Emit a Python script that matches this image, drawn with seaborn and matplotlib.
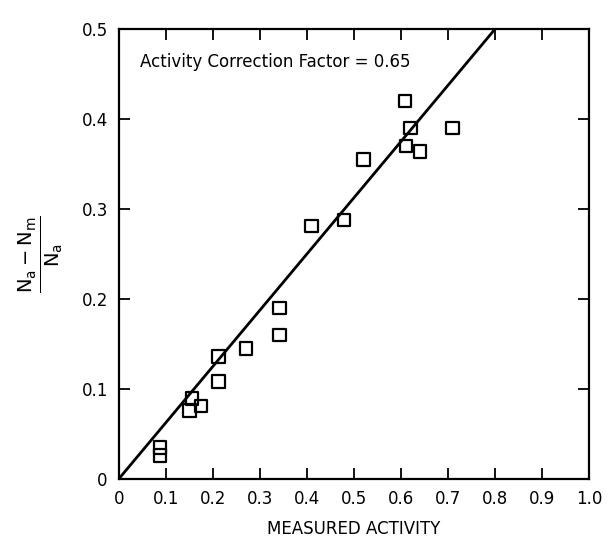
import matplotlib
matplotlib.use("Agg")
import matplotlib.pyplot as plt
import seaborn as sns
import pandas as pd

# Data
measured_activity = [0.088, 0.088, 0.150, 0.156, 0.175, 0.212, 0.212, 0.271, 0.342, 0.342,
                     0.410, 0.479, 0.520, 0.609, 0.620, 0.611, 0.641, 0.710]
ratio = [0.035, 0.026, 0.076, 0.0895, 0.081, 0.136, 0.108, 0.145, 0.190, 0.160,
         0.281, 0.288, 0.355, 0.420, 0.390, 0.370, 0.364, 0.390]

fit_x = [0.0, 0.8]
fit_y = [0.0, 0.5]

x_ticks = [0, 0.1, 0.2, 0.3, 0.4, 0.5, 0.6, 0.7, 0.8, 0.9, 1.0]
x_tick_labels = ['0', '0.1', '0.2', '0.3', '0.4', '0.5', '0.6', '0.7', '0.8', '0.9', '1.0']
y_ticks = [0, 0.1, 0.2, 0.3, 0.4, 0.5]
y_tick_labels = ['0', '0.1', '0.2', '0.3', '0.4', '0.5']

df = pd.DataFrame({'activity': measured_activity, 'ratio': ratio})
fit = pd.DataFrame({'x': fit_x, 'y': fit_y})

sns.set_style('ticks')
plt.rcParams['font.family'] = ['DejaVu Sans']
plt.rcParams['text.color'] = 'black'
plt.rcParams['axes.labelcolor'] = 'black'
plt.rcParams['xtick.color'] = 'black'
plt.rcParams['ytick.color'] = 'black'
plt.rcParams['mathtext.default'] = 'regular'

fig = plt.figure(figsize=(6.16, 5.41), dpi=100)
ax = fig.add_axes([0.193, 0.115, 0.763, 0.831])

sns.lineplot(data=fit, x='x', y='y', color='black', linewidth=2, ax=ax)
sns.scatterplot(data=df, x='activity', y='ratio', marker='s', s=80,
                facecolor='none', edgecolor='black', linewidth=1.6, ax=ax, zorder=3)

ax.set_xlim(0, 1.0)
ax.set_ylim(0, 0.5)
ax.set_xticks(x_ticks)
ax.set_xticklabels(x_tick_labels)
ax.set_yticks(y_ticks)
ax.set_yticklabels(y_tick_labels)
ax.tick_params(direction='in', length=8, width=1.3, top=True, right=True,
               labelsize=12, pad=8)
for sp in ax.spines.values():
    sp.set_linewidth(1.6)
    sp.set_color('black')

ax.set_xlabel('MEASURED ACTIVITY', fontsize=12, labelpad=9)
ax.set_ylabel(r'$\frac{N_a - N_m}{N_a}$', fontsize=20, labelpad=12)

ax.text(0.045, 0.463, 'Activity Correction Factor = 0.65', fontsize=12,
        ha='left', va='center')

fig.savefig('out.png', dpi=100)
